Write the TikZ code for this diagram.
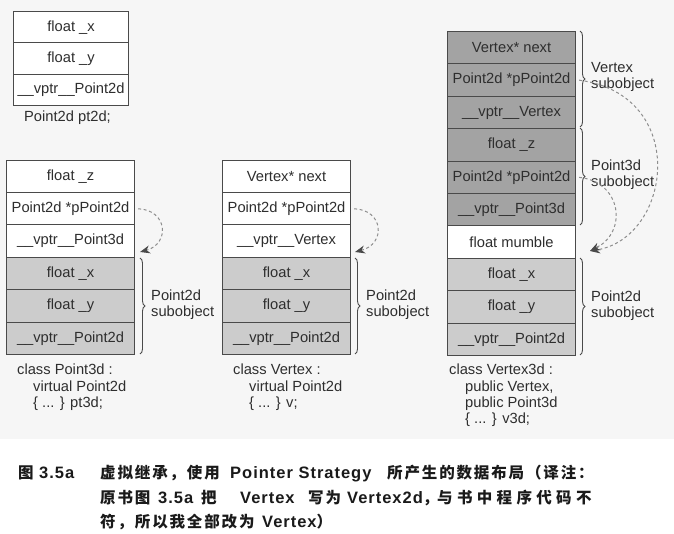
\documentclass[tikz,border=0pt]{standalone}
\usepackage{fontspec}
\setmainfont{Liberation Sans}
\newfontfamily\cjkfont{Noto Sans CJK SC}
\newfontfamily\latcap{Liberation Sans}
\usetikzlibrary{decorations.pathreplacing,arrows.meta}

\definecolor{bgpanel}{HTML}{F6F6F6}
\definecolor{darkcell}{HTML}{A3A3A3}
\definecolor{lightcell}{HTML}{CCCCCC}
\definecolor{inkline}{HTML}{4A4A4A}
\definecolor{inktext}{HTML}{2E2E2E}
\definecolor{dashgray}{HTML}{8E8E8E}
\definecolor{captext}{HTML}{1A1A1A}

% caption pieces: spaced CJK and spaced Latin
\newcommand{\zh}[1]{{\cjkfont\bfseries\fontsize{15.5}{18}\selectfont\addfontfeatures{LetterSpace=12}#1}}
\newcommand{\zhwide}[1]{{\cjkfont\bfseries\fontsize{15.5}{18}\selectfont\addfontfeatures{LetterSpace=28}#1}}
\newcommand{\la}[1]{{\latcap\bfseries\fontsize{16.5}{18}\selectfont\addfontfeatures{LetterSpace=6}#1}}

\tikzset{
  cell/.style={draw=inkline, line width=1.1pt, minimum width=128pt,
    minimum height=32.4pt, inner sep=0pt, text=inktext,
    font=\fontsize{14.7}{16}\selectfont, anchor=north west},
  smallcell/.style={cell, minimum width=115pt, minimum height=31.4pt},
  p2d/.style={cell, fill=lightcell},
  sub/.style={cell, fill=darkcell},
  plain/.style={cell, fill=white},
  txt/.style={text=inktext, font=\fontsize{14.7}{16.3}\selectfont, inner sep=0pt},
  blocktxt/.style={txt, align=left, anchor=north west},
  bracetxt/.style={txt, align=left, anchor=west},
  bracket/.style={draw=inkline, line width=0.9pt,
    decorate, decoration={brace, amplitude=5pt}},
  ptrlink/.style={draw=dashgray, line width=1pt, dash pattern=on 3pt off 2.6pt,
    -{Stealth[length=10pt, width=8pt, inkline]}},
  captionpart/.style={text=captext, inner sep=0pt, anchor=base west},
}

\begin{document}
\begin{tikzpicture}[x=1pt, y=-1pt]
\useasboundingbox (0,0) rectangle (674,534);
\fill[white] (0,0) rectangle (674,534);
\fill[bgpanel] (0,0) rectangle (674,439);

% ---- Point2d pt2d ----
\node[smallcell, fill=white] (q1) at (13,11) {float \_x};
\node[smallcell, fill=white] (q2) at (13,42.4) {float \_y};
\node[smallcell, fill=white] (q3) at (13,73.8) {\_\_vptr\_\_Point2d};
\node[txt] (qlab) at (67.5,117.5) {Point2d pt2d;};

% ---- Point3d pt3d ----
\node[plain] (a1) at (6,159.6) {float \_z};
\node[plain] (a2) at (6,192.0) {Point2d *pPoint2d};
\node[plain] (a3) at (6,224.4) {\_\_vptr\_\_Point3d};
\node[p2d]   (a4) at (6,256.8) {float \_x};
\node[p2d]   (a5) at (6,289.2) {float \_y};
\node[p2d]   (a6) at (6,321.6) {\_\_vptr\_\_Point2d};
\draw[bracket] (140,258) -- (140,354);
\node[bracetxt] (alab) at (151,305) {Point2d\\subobject};
\coordinate (atip) at (140,252);
\draw[ptrlink] ([xshift=3pt]a2.east) .. controls (168,210) and (170,244) .. (atip);
\node[blocktxt] (acls) at (17,364) {class Point3d :\\\hspace*{16pt}virtual Point2d\\\hspace*{16pt}\{ ... \} pt3d;};

% ---- Vertex v ----
\node[plain] (b1) at (222,159.6) {Vertex* next};
\node[plain] (b2) at (222,192.0) {Point2d *pPoint2d};
\node[plain] (b3) at (222,224.4) {\_\_vptr\_\_Vertex};
\node[p2d]   (b4) at (222,256.8) {float \_x};
\node[p2d]   (b5) at (222,289.2) {float \_y};
\node[p2d]   (b6) at (222,321.6) {\_\_vptr\_\_Point2d};
\draw[bracket] (355,258) -- (355,354);
\node[bracetxt] (blab) at (366,305) {Point2d\\subobject};
\coordinate (btip) at (355,252);
\draw[ptrlink] ([xshift=3pt]b2.east) .. controls (384,210) and (386,244) .. (btip);
\node[blocktxt] (bcls) at (233,364) {class Vertex :\\\hspace*{16pt}virtual Point2d\\\hspace*{16pt}\{ ... \} v;};

% ---- Vertex3d v3d ----
\node[sub]   (c1)  at (447,31.0)  {Vertex* next};
\node[sub]   (c2)  at (447,63.4)  {Point2d *pPoint2d};
\node[sub]   (c3)  at (447,95.8)  {\_\_vptr\_\_Vertex};
\node[sub]   (c4)  at (447,128.2) {float \_z};
\node[sub]   (c5)  at (447,160.6) {Point2d *pPoint2d};
\node[sub]   (c6)  at (447,193.0) {\_\_vptr\_\_Point3d};
\node[plain] (c7)  at (447,225.4) {float mumble};
\node[p2d]   (c8)  at (447,257.8) {float \_x};
\node[p2d]   (c9)  at (447,290.2) {float \_y};
\node[p2d]   (c10) at (447,322.6) {\_\_vptr\_\_Point2d};
\draw[bracket] (580,31) -- (580,127);
\draw[bracket] (580,128) -- (580,225);
\draw[bracket] (580,258) -- (580,355);
\node[bracetxt] (vlab) at (591,77) {Vertex\\subobject};
\node[bracetxt] (tlab) at (591,175) {Point3d\\subobject};
\node[bracetxt] (plab) at (591,306) {Point2d\\subobject};
\coordinate (ctip) at (590,251);
\draw[ptrlink] ([xshift=3pt]c2.east) .. controls (690,95) and (672,238) .. (ctip);
\draw[ptrlink] ([xshift=3pt]c5.east) .. controls (622,182) and (628,232) .. (ctip);
\node[blocktxt] (ccls) at (449,364) {class Vertex3d :\\\hspace*{16pt}public Vertex,\\\hspace*{16pt}public Point3d\\\hspace*{16pt}\{ ... \} v3d;};

% ---- caption ----
\node[captionpart] (k0) at (18,478)  {\zh{图}};
\node[captionpart] (k1) at (39,478)  {\la{3.5a}};
\node[captionpart] (k2) at (100,478) {\zh{虚拟继承，使用}};
\node[captionpart] (k3) at (230,478) {\la{Pointer Strategy}};
\node[captionpart] (k4) at (387,478) {\zh{所产生的数据布局（译注：}};
\node[captionpart] (m0) at (100,503) {\zh{原书图}};
\node[captionpart] (m1) at (158,503) {\la{3.5a}};
\node[captionpart] (m2) at (201,503) {\zh{把}};
\node[captionpart] (m3) at (240,503) {\la{Vertex}};
\node[captionpart] (m4) at (308,503) {\zh{写为}};
\node[captionpart] (m5) at (347,503) {\la{Vertex2d}\zh{，}};
\node[captionpart] (m6) at (437,503) {\zhwide{与书中程序代码不}};
\node[captionpart] (n0) at (100,527) {\zh{符，所以我全部改为}};
\node[captionpart] (n1) at (262,527) {\la{Vertex}\zh{）}};
\end{tikzpicture}
\end{document}
